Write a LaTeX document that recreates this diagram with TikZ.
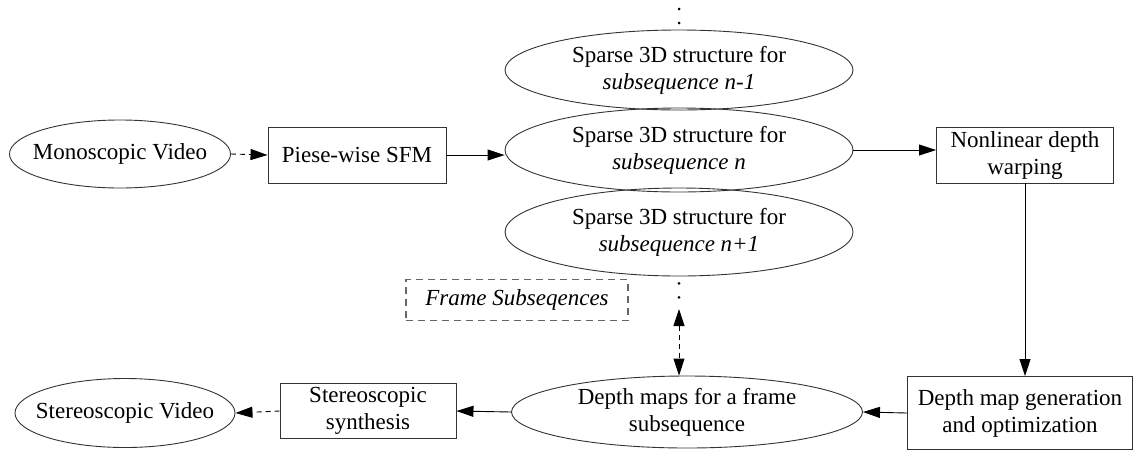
\documentclass[tikz,border=0pt]{standalone}
\usepackage{fontspec}
\setmainfont{Liberation Serif}
\usepackage{tikz}
\usetikzlibrary{arrows.meta,shapes.geometric}
\tikzset{
  stage/.style={draw=black!80, line width=0.9pt, rectangle, inner sep=0pt, align=center},
  datum/.style={draw=black!80, line width=0.9pt, ellipse, inner sep=-30pt, align=center},
  flow/.style={-{Triangle[length=17pt,width=11pt]}, line width=0.9pt},
  loose/.style={dash pattern=on 5pt off 4pt},
  dots/.style={line width=3pt, line cap=round, dash pattern=on 0pt off 14pt},
}

\begin{document}
\begin{tikzpicture}[x=1pt,y=-1pt,font=\fontsize{23}{27}\selectfont]
      \useasboundingbox (0,0) rectangle (1135,451);
      \path
      (120,154) node[datum, minimum width=221, minimum height=68](mono) {Monoscopic Video}
      (357,155) node[stage, minimum width=178, minimum height=56](sfm) {Piese-wise SFM}
      (679,70) node[datum, minimum width=348, minimum height=80](prev) {Sparse 3D structure for\\\textit{subsequence n-1}}
      (679,150) node[datum, minimum width=348, minimum height=84](cur) {Sparse 3D structure for\\\textit{subsequence n}}
      (679,232) node[datum, minimum width=348, minimum height=88](next) {Sparse 3D structure for\\\textit{subsequence n+1}}
      (1025,155) node[stage, minimum width=177, minimum height=56](warp) {Nonlinear depth\\warping}
      (1020,413) node[stage, minimum width=225, minimum height=73](gen) {Depth map generation\\and optimization}
      (687,412) node[datum, minimum width=351, minimum height=72](dmaps) {Depth maps for a frame\\subsequence}
      (368,411) node[stage, minimum width=176, minimum height=55](synth) {Stereoscopic\\synthesis}
      (125,413) node[datum, minimum width=220, minimum height=69](stereo) {Stereoscopic Video}
      (517,300) node[stage, draw=black!60, dash pattern=on 7pt off 5pt, line width=1.1pt, minimum width=222, minimum height=41](frames) {\textit{Frame Subseqences}}
      ;
      \coordinate (top) at (679,9);
      \coordinate (gap) at (679,309);

      \draw[flow, loose] (mono.east) -- (sfm.west);
      \draw[flow] (sfm.east) -- (sfm.east -| cur.west);
      \draw[flow] (cur.east) -- (cur.east -| warp.west);
      \draw[flow] (warp.south) -- (warp.south |- gen.north);
      \draw[flow] (gen.west) -- (dmaps.east);
      \draw[flow] (dmaps.west) -- (synth.east);
      \draw[flow, loose] (synth.west) -- (stereo.east);
      \draw[dots] (top) -- (prev.north);
      \draw[dots, dash phase=7pt] (next.south) -- (gap);
      \draw[{Triangle[length=17pt,width=11pt]}-{Triangle[length=17pt,width=11pt]}, line width=0.9pt, loose] (gap) -- (gap |- dmaps.north);
    \end{tikzpicture}
\end{document}
